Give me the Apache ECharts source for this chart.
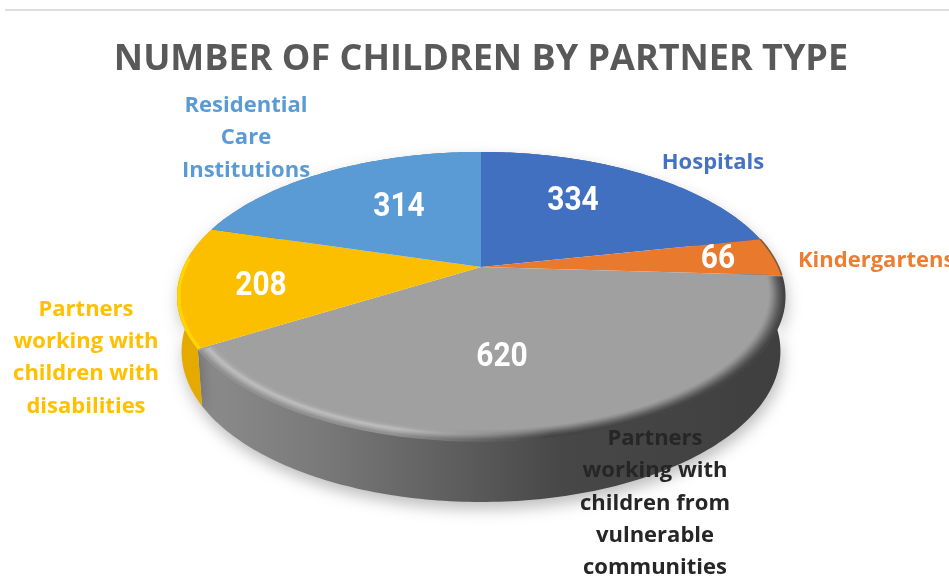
<!DOCTYPE html>
<html><head><meta charset="utf-8">
<style>html,body{margin:0;padding:0;background:#fff;overflow:hidden}#c{width:949px;height:577px;filter:blur(0.4px)}</style>
<script src="https://cdn.jsdelivr.net/npm/echarts@6/dist/echarts.min.js"></script>
</head><body><div id="c"></div>
<script>
const titleText = 'NUMBER OF CHILDREN BY PARTNER TYPE';
const categories = ['Hospitals','Kindergartens','Partners\nworking with\nchildren from\nvulnerable\ncommunities','Partners\nworking with\nchildren with\ndisabilities','Residential\nCare\nInstitutions'];
const values = [334,66,620,208,314];
const sliceColors = ['#4270c0','#e97a2d','#a0a0a0','#fbbf00','#5b9bd5'];
const labelColors = ['#4472c4','#ed7d31','#262626','#ffc000','#5b9bd5'];

const chart = echarts.init(document.getElementById('c'),null,{renderer:'canvas',width:949,height:577});
const total = values.reduce((a,b)=>a+b,0);
const cum = [0]; values.forEach((v,i)=>cum.push(cum[i]+v));
const ang = v => v/total*2*Math.PI;
// perspective projection of the pie disc
const CX=481,CY=267,R=297.6,S=138.5,K=0.204,SHRINK=0.985;
function proj(t,f){f=f==null?1:f;const X=f*Math.sin(t),Y=-f*Math.cos(t),w=1-K*Y;return [CX+R*X/w,CY+S*Y/w];}
function low(p){return [CX+(p[0]-CX)*SHRINK,p[1]+57+(p[1]-348)*0.043];}
function arc(a,b,f){const n=Math.max(2,Math.ceil(Math.abs(b-a)*60)),o=[];for(let i=0;i<=n;i++)o.push(proj(a+(b-a)*i/n,f));return o;}
const grad=(x0,x1,stops)=>({type:'linear',x:x0,y:0,x2:x1,y2:0,global:true,colorStops:stops.map(s=>({offset:s[0],color:s[1]}))});

const wallFill = [ '#2f5597','#8a5022',
  grad(200,785,[[0,'#8c8c8c'],[0.2,'#7a7a7a'],[0.45,'#5c5c5c'],[0.62,'#474747'],[1,'#3f3f3f']]),
  '#e4aa00', '#44749f'];
const shadow = {shadowColor:'rgba(0,0,0,0.26)',shadowBlur:15,shadowOffsetY:7,shadowOffsetX:2};

function renderWall(params,api){
  const i=params.dataIndex, a=ang(cum[i]), b=ang(cum[i+1]);
  const top=arc(a,b), pts=top.concat(top.slice().reverse().map(low));
  return {type:'polygon',shape:{points:pts},style:Object.assign({fill:wallFill[i]},shadow)};
}
// bevel colour ramps, inner edge to outer edge, for the lit left and the shaded right of the rim
const leftRamp=[[160,160,160],[168,168,168],[190,190,190],[170,170,170],[145,145,145]];
const rightRamp=[[160,160,160],[140,140,140],[112,112,112],[86,86,86],[68,68,68]];
function ramp(r,t){const p=t*(r.length-1),j=Math.min(r.length-2,Math.floor(p)),u=p-j;
  const c=r[j].map((v,n)=>Math.round(v+(r[j+1][n]-v)*u));return 'rgb('+c.join(',')+')';}
function renderTop(params,api){
  const i=params.dataIndex, a=ang(cum[i]), b=ang(cum[i+1]);
  const ch=[{type:'polygon',shape:{points:[[CX,CY]].concat(arc(a,b))},style:{fill:sliceColors[i]}}];
  if(i===2){ // bevel on the large front slice
    const steps=14;
    for(let k=0;k<steps;k++){
      const t=k/(steps-1), f=0.95+t*0.048;
      const cl=ramp(leftRamp,t), cr=ramp(rightRamp,t);
      ch.push({type:'polyline',shape:{points:arc(a+0.01,b-0.012,f)},
        style:{fill:'none',lineWidth:2.4,stroke:grad(200,785,[[0,cl],[0.33,cl],[0.6,cr],[1,cr]])}});
    }
  }
  if(i===1){
    ch.push({type:'polyline',shape:{points:arc(a,b)},style:{fill:'none',lineWidth:1.6,stroke:'#7d5a3a'}});
  }
  if(i===3){ // yellow rim
    ch.push({type:'polyline',shape:{points:arc(a,a+0.62,0.994)},style:{fill:'none',lineWidth:3.2,stroke:'#ffd500'}});
  }
  return {type:'group',children:ch};
}
// hand-read text anchors of the value labels and of the category labels
const valueAnchor=[[573,201.5],[718,259],[502,357.5],[261,286],[399,207.5]];
const nameAnchor=[[713,162.5,'center'],[798,260.5,'left'],[655,503.5,'center'],[86,358,'center'],[246,138,'center']];
function renderText(params,api){
  const i=params.dataIndex, n=nameAnchor[i], va=valueAnchor[i];
  return {type:'group',children:[
    {type:'text',x:va[0],y:va[1],scaleX:0.88,style:{text:String(api.value(0)),fill:'#fff',font:'bold 34px Roboto',align:'center',verticalAlign:'middle',
      shadowColor:'rgba(0,0,0,0.25)',shadowBlur:2}},
    {type:'text',x:n[0],y:n[1],style:{text:categories[i],fill:labelColors[i],font:'700 22px "Open Sans"',lineHeight:32.3,align:n[2],verticalAlign:'middle'}}
  ]};
}
const base={type:'custom',coordinateSystem:'none',data:values,silent:true,animation:false};
chart.setOption({
  animation:false,backgroundColor:'#fff',
  title:{text:titleText,left:476,top:37,textAlign:'center',textStyle:{color:'#595959',fontFamily:'Open Sans',fontWeight:700,fontSize:36}},
  graphic:[{type:'line',shape:{x1:5,y1:10,x2:949,y2:10},style:{stroke:'#dedede',lineWidth:2},silent:true}],
  series:[
    Object.assign({},base,{z:1,renderItem:renderWall}),
    Object.assign({},base,{z:2,renderItem:renderTop}),
    Object.assign({},base,{z:3,renderItem:renderText})
  ]
});
</script></body></html>
